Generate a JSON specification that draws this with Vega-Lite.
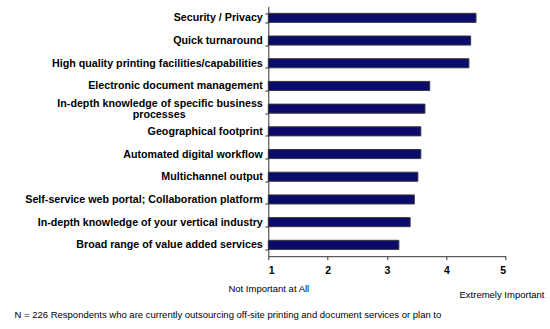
{
  "$schema": "https://vega.github.io/schema/vega-lite/v6.json",
  "width": 237.4,
  "height": 249.7,
  "autosize": "none",
  "padding": {"left": 268.3, "top": 6.5, "right": 44.3, "bottom": 72.8},
  "background": "white",
  "config": {"view": {"stroke": null}, "font": "Liberation Sans"},
  "data": {
    "values": [
      {"factor": "Security / Privacy", "score": 4.50},
      {"factor": "Quick turnaround", "score": 4.41},
      {"factor": "High quality printing facilities/capabilities", "score": 4.38},
      {"factor": "Electronic document management", "score": 3.72},
      {"factor": "In-depth knowledge of specific business processes", "score": 3.64},
      {"factor": "Geographical footprint", "score": 3.57},
      {"factor": "Automated digital workflow", "score": 3.57},
      {"factor": "Multichannel output", "score": 3.52},
      {"factor": "Self-service web portal; Collaboration platform", "score": 3.46},
      {"factor": "In-depth knowledge of your vertical industry", "score": 3.39},
      {"factor": "Broad range of value added services", "score": 3.20}
    ]
  },
  "layer": [
    {
      "mark": {"type": "bar", "fill": "#0b0b6b", "stroke": "#3a3a3a", "strokeWidth": 1},
      "encoding": {
        "y": {
          "field": "factor", "type": "nominal", "sort": null,
          "scale": {"paddingInner": 0.6, "paddingOuter": 0.3},
          "axis": {
            "title": "N = 226 Respondents who are currently outsourcing off-site printing and document services or plan to",
            "titleAngle": 0, "titleAlign": "left", "titleBaseline": "middle",
            "titleX": -254.3, "titleY": 307.8,
            "titleFont": "Liberation Sans", "titleFontSize": 9.5, "titleFontWeight": "normal", "titleColor": "#000",
            "labelFont": "Liberation Sans", "labelFontSize": 10.7, "labelFontWeight": "bold", "labelColor": "#000",
            "labelLimit": 400, "labelPadding": 2.5, "labelLineHeight": 11,
            "labelOffset": {"condition": {"test": "datum.label == 'In-depth knowledge of specific business processes'", "value": -5.5}, "value": 0},
            "labelExpr": "datum.label == 'In-depth knowledge of specific business processes' ? ['In-depth knowledge of specific business', 'processes\u00a0\u00a0\u00a0\u00a0\u00a0\u00a0\u00a0\u00a0\u00a0\u00a0\u00a0\u00a0\u00a0\u00a0\u00a0\u00a0\u00a0\u00a0\u00a0\u00a0\u00a0\u00a0\u00a0\u00a0\u00a0\u00a0\u200b'] : datum.label",
            "tickBand": "extent", "tickSize": 3.5, "tickColor": "#333", "domainColor": "#333",
            "grid": false
          }
        },
        "x": {
          "field": "score", "type": "quantitative",
          "scale": {"domain": [1, 5], "nice": false, "zero": false},
          "axis": {
            "values": [1, 2, 3, 4, 5], "format": "d",
            "title": "Not Important at All",
            "titleX": 0, "titleY": 32.3, "titleAlign": "center", "titleBaseline": "middle",
            "titleFont": "Liberation Sans", "titleFontSize": 9.5, "titleFontWeight": "normal", "titleColor": "#000",
            "labelFont": "Liberation Sans", "labelFontSize": 10.5, "labelFontWeight": "bold", "labelColor": "#000",
            "labelPadding": 6, "tickSize": 3.5, "tickColor": "#333", "domainColor": "#333",
            "grid": false
          }
        },
        "x2": {"datum": 1}
      }
    },
    {
      "mark": {"type": "bar", "opacity": 0},
      "encoding": {
        "y": {"field": "factor", "type": "nominal", "sort": null},
        "x": {
          "field": "score", "type": "quantitative",
          "axis": {
            "orient": "bottom",
            "title": "Extremely Important",
            "domain": false, "ticks": false, "labels": false, "grid": false,
            "titleX": 275.7, "titleY": 38, "titleAlign": "right", "titleBaseline": "middle",
            "titleFont": "Liberation Sans", "titleFontSize": 9.5, "titleFontWeight": "normal", "titleColor": "#000"
          }
        },
        "x2": {"datum": 1}
      }
    }
  ],
  "resolve": {"axis": {"x": "independent"}}
}
